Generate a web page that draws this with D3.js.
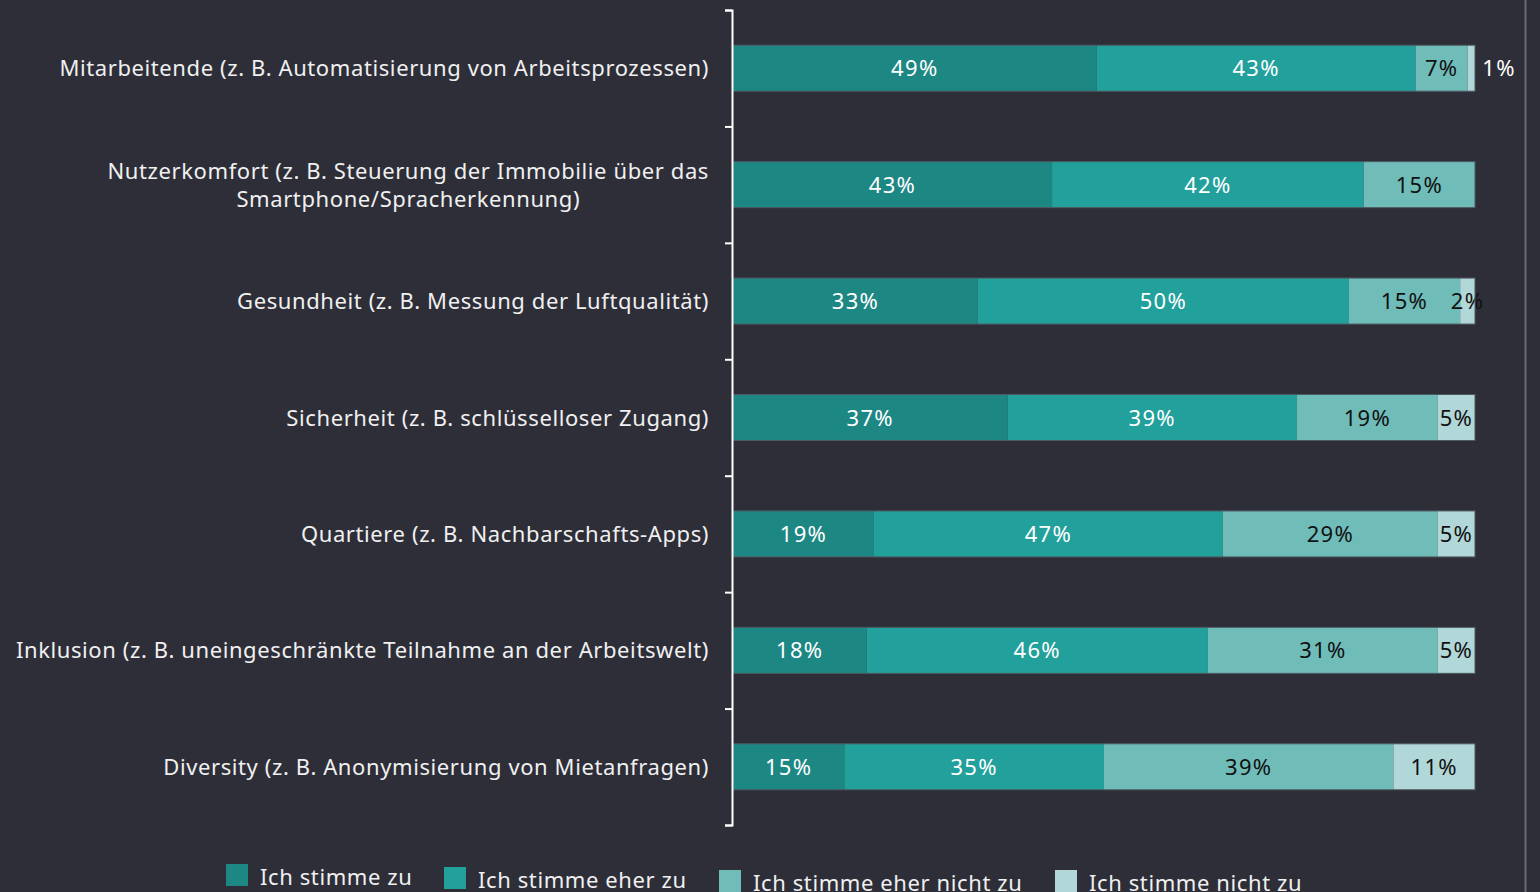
<!DOCTYPE html>
<html lang="de">
	<head>
		<meta charset="utf-8">
		<title>Stacked bars</title>
		<script type="text/javascript" src="https://cdn.jsdelivr.net/npm/d3@7"></script>
		<style type="text/css">
			body {
				margin: 0;
				background-color: #2e2e38;
			}
			text {
				font-family: "Noto Sans", sans-serif;
				font-size: 22px;
				letter-spacing: 0.6px;
			}
			text.val {
				letter-spacing: 1.3px;
			}
		</style>
	</head>
	<body>
		<script type="text/javascript">

			var w = 1540;
			var h = 892;

			// categories (two-line labels split with "|")
			var categories = [
				"Mitarbeitende (z. B. Automatisierung von Arbeitsprozessen)",
				"Nutzerkomfort (z. B. Steuerung der Immobilie über das|Smartphone/Spracherkennung)",
				"Gesundheit (z. B. Messung der Luftqualität)",
				"Sicherheit (z. B. schlüsselloser Zugang)",
				"Quartiere (z. B. Nachbarschafts-Apps)",
				"Inklusion (z. B. uneingeschränkte Teilnahme an der Arbeitswelt)",
				"Diversity (z. B. Anonymisierung von Mietanfragen)"
			];

			var seriesNames = ["Ich stimme zu", "Ich stimme eher zu", "Ich stimme eher nicht zu", "Ich stimme nicht zu"];
			var colors = ["#1d8784", "#22a09c", "#6fbcb9", "#b2d7d8"];
			var labelColors = ["#ffffff", "#ffffff", "#111111", "#111111"];

			// values per series, one per category
			var stimmeZu = [49, 43, 33, 37, 19, 18, 15];
			var eherZu = [43, 42, 50, 39, 47, 46, 35];
			var eherNicht = [7, 15, 15, 19, 29, 31, 39];
			var nichtZu = [1, 0, 2, 5, 5, 5, 11];

			var series = [stimmeZu, eherZu, eherNicht, nichtZu];

			var svg = d3.select("body")
						.append("svg")
						.attr("width", w)
						.attr("height", h);

			// right edge line
			svg.append("line")
				.attr("x1", 1525.5).attr("x2", 1525.5)
				.attr("y1", 0).attr("y2", h)
				.attr("stroke", "#6a6a76")
				.attr("stroke-width", 2);

			var x = d3.scaleLinear().domain([0, 100]).range([733, 1475]);
			var y = d3.scaleBand()
						.domain(d3.range(categories.length))
						.range([10, 825])
						.paddingInner(0.605)
						.paddingOuter(0.3025);

			// stack data
			var rows = categories.map(function(c, i) {
				var o = {};
				seriesNames.forEach(function(s, j) { o[s] = series[j][i]; });
				return o;
			});
			var stacked = d3.stack().keys(seriesNames)(rows);

			var groups = svg.selectAll("g.series")
				.data(stacked)
				.enter()
				.append("g")
				.attr("class", "series");

			groups.selectAll("rect")
				.data(function(d) { return d; })
				.enter()
				.filter(function(d) { return d[1] - d[0] > 0; })
				.append("rect")
				.attr("x", function(d) { return x(d[0]); })
				.attr("y", function(d, i) { return y(rows.indexOf(d.data)); })
				.attr("width", function(d) { return x(d[1]) - x(d[0]); })
				.attr("height", y.bandwidth())
				.attr("fill", function() { return colors[seriesNames.indexOf(d3.select(this.parentNode).datum().key)]; });

			// thin outline around each bar
			svg.selectAll("rect.outline")
				.data(categories)
				.enter()
				.append("rect")
				.attr("class", "outline")
				.attr("x", x(0))
				.attr("y", function(d, i) { return y(i); })
				.attr("width", x(100) - x(0))
				.attr("height", y.bandwidth())
				.attr("fill", "none")
				.attr("stroke", "#4e5a62")
				.attr("stroke-width", 1);

			// value labels
			groups.each(function(s, j) {
				d3.select(this).selectAll("text")
					.data(s.filter(function(d) { return d[1] - d[0] > 0; }))
					.enter()
					.append("text")
					.attr("class", "val")
					.text(function(d) { return (d[1] - d[0]) + "%"; })
					.attr("text-anchor", "middle")
					.attr("x", function(d) {
						var v = d[1] - d[0];
						if (v < 2) return x(d[1]) + 24;
						return (x(d[0]) + x(d[1])) / 2;
					})
					.attr("y", function(d) { return y(rows.indexOf(d.data)) + y.bandwidth() / 2 + 8; })
					.attr("fill", function(d) {
						return (d[1] - d[0]) < 2 ? "#ffffff" : labelColors[j];
					});
			});

			// axis with ticks at band boundaries
			var yEdges = d3.scaleLinear().domain([0, categories.length]).range([10, 825]);
			svg.append("g")
				.attr("transform", "translate(732,0)")
				.call(d3.axisLeft(yEdges).tickValues(d3.range(categories.length + 1)).tickSize(7).tickFormat(""))
				.call(function(g) {
					g.selectAll("line, path").attr("stroke", "#ffffff").attr("stroke-width", 2);
				});

			// category labels: block right-aligned at 709, lines centred within block
			svg.selectAll("text.cat")
				.data(categories)
				.enter()
				.append("text")
				.attr("class", "cat")
				.attr("text-anchor", "middle")
				.attr("fill", "#f0f0f0")
				.attr("y", function(d, i) { return y(i) + y.bandwidth() / 2 + 8; })
				.each(function(d) {
					var lines = d.split("|");
					var t = d3.select(this);
					var spans = lines.map(function(l, k) {
						return t.append("tspan")
							.attr("dy", k === 0 ? (-(lines.length - 1) * 14) : 28)
							.text(l);
					});
					var maxW = d3.max(spans, function(s) { return s.node().getComputedTextLength(); });
					spans.forEach(function(s) { s.attr("x", 709 - maxW / 2); });
				});

			// legend
			var legendX = [226, 444, 719, 1055];
			var legendY = [864, 867, 870, 870];
			var legend = svg.selectAll("g.legend")
				.data(seriesNames)
				.enter()
				.append("g")
				.attr("class", "legend")
				.attr("transform", function(d, i) { return "translate(" + legendX[i] + "," + legendY[i] + ")"; });

			legend.append("rect")
				.attr("width", 22)
				.attr("height", 22)
				.attr("fill", function(d, i) { return colors[i]; });

			legend.append("text")
				.attr("x", 34)
				.attr("y", 21)
				.attr("fill", "#f0f0f0")
				.text(function(d) { return d; });

		</script>
	</body>
</html>
